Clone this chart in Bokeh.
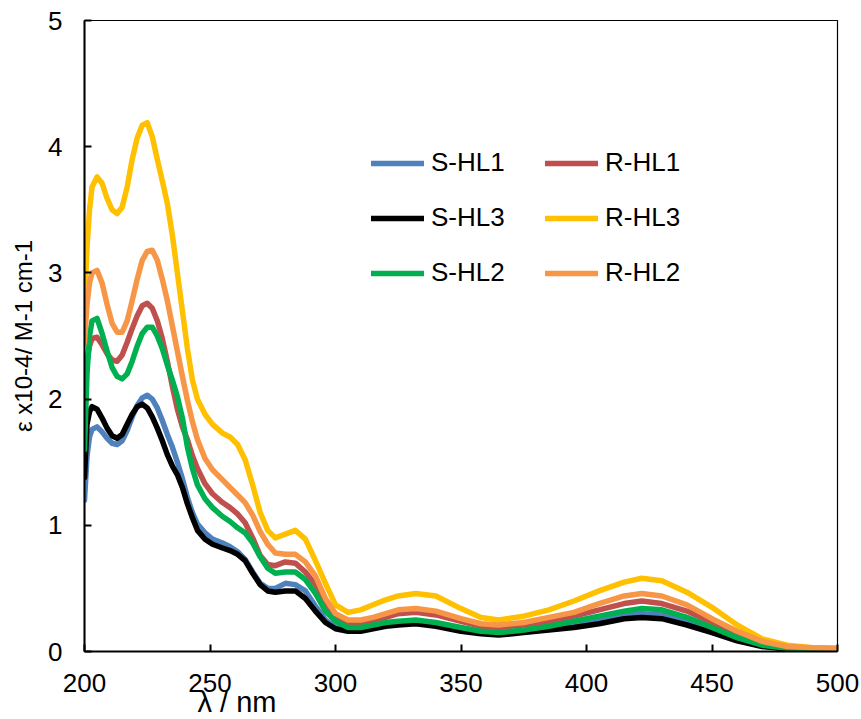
from bokeh.plotting import figure
from bokeh.models import Legend, LegendItem, FixedTicker, Range1d, Title
from bokeh.embed import file_html
from bokeh.resources import INLINE

# Wavelength grid (nm)
wavelength = [200, 201, 202, 203, 205, 207, 209, 211, 213, 215, 217, 219, 221, 223, 225,
              227, 229, 231, 233, 235, 237, 239, 241, 243, 245, 248, 251, 255, 258, 261,
              264, 267, 270, 273, 276, 280, 284, 288, 292, 296, 300, 305, 310, 315, 320,
              325, 332, 340, 350, 358, 365, 375, 385, 395, 405, 415, 422, 430, 440, 450,
              460, 470, 480, 490, 500]

# Molar absorptivity (x10^-4 M-1 cm-1)
s_hl1 = [1.20, 1.55, 1.70, 1.76, 1.78, 1.74, 1.69, 1.65, 1.64, 1.67, 1.75, 1.86, 1.95, 2.01, 2.03,
         2.00, 1.93, 1.83, 1.72, 1.62, 1.50, 1.37, 1.22, 1.10, 1.01, 0.94, 0.89, 0.86, 0.83, 0.79,
         0.73, 0.63, 0.54, 0.50, 0.50, 0.54, 0.53, 0.48, 0.36, 0.25, 0.19, 0.17, 0.17, 0.19, 0.21,
         0.22, 0.23, 0.21, 0.17, 0.15, 0.14, 0.16, 0.18, 0.21, 0.25, 0.29, 0.30, 0.29, 0.23, 0.16,
         0.09, 0.045, 0.02, 0.012, 0.01]

r_hl1 = [1.95, 2.30, 2.42, 2.48, 2.49, 2.43, 2.36, 2.31, 2.30, 2.35, 2.45, 2.56, 2.66, 2.74, 2.76,
         2.72, 2.62, 2.48, 2.30, 2.10, 1.92, 1.78, 1.68, 1.55, 1.45, 1.33, 1.25, 1.18, 1.14, 1.09,
         1.02, 0.90, 0.76, 0.69, 0.68, 0.71, 0.70, 0.63, 0.53, 0.38, 0.28, 0.23, 0.23, 0.25, 0.27,
         0.30, 0.31, 0.29, 0.24, 0.20, 0.19, 0.21, 0.24, 0.28, 0.33, 0.38, 0.40, 0.38, 0.32, 0.23,
         0.14, 0.07, 0.035, 0.025, 0.02]

s_hl3 = [1.38, 1.80, 1.90, 1.94, 1.92, 1.85, 1.77, 1.71, 1.69, 1.72, 1.80, 1.88, 1.94, 1.96, 1.93,
         1.86, 1.77, 1.67, 1.56, 1.47, 1.40, 1.30, 1.17, 1.06, 0.96, 0.89, 0.85, 0.82, 0.80, 0.77,
         0.72, 0.62, 0.53, 0.48, 0.47, 0.48, 0.48, 0.42, 0.32, 0.23, 0.18, 0.16, 0.16, 0.18, 0.20,
         0.21, 0.22, 0.20, 0.16, 0.14, 0.13, 0.15, 0.17, 0.19, 0.22, 0.26, 0.27, 0.26, 0.21, 0.15,
         0.085, 0.04, 0.02, 0.01, 0.01]

r_hl3 = [2.75, 3.20, 3.50, 3.68, 3.76, 3.71, 3.59, 3.50, 3.47, 3.52, 3.68, 3.90, 4.07, 4.17, 4.19,
         4.08, 3.90, 3.73, 3.55, 3.30, 3.00, 2.70, 2.40, 2.15, 2.00, 1.88, 1.80, 1.73, 1.70, 1.64,
         1.52, 1.32, 1.10, 0.96, 0.90, 0.93, 0.96, 0.89, 0.72, 0.54, 0.37, 0.31, 0.33, 0.37, 0.41,
         0.44, 0.46, 0.44, 0.34, 0.27, 0.25, 0.28, 0.33, 0.40, 0.48, 0.55, 0.58, 0.56, 0.47, 0.35,
         0.21, 0.10, 0.05, 0.03, 0.025]

s_hl2 = [1.60, 2.20, 2.50, 2.62, 2.64, 2.52, 2.38, 2.25, 2.18, 2.16, 2.20, 2.30, 2.42, 2.52, 2.57,
         2.57, 2.50, 2.40, 2.27, 2.15, 2.02, 1.85, 1.62, 1.45, 1.32, 1.21, 1.14, 1.07, 1.03, 0.98,
         0.94, 0.86, 0.75, 0.66, 0.62, 0.63, 0.63, 0.57, 0.46, 0.32, 0.24, 0.19, 0.19, 0.21, 0.23,
         0.24, 0.25, 0.23, 0.19, 0.16, 0.15, 0.17, 0.20, 0.24, 0.28, 0.32, 0.34, 0.33, 0.27, 0.19,
         0.11, 0.05, 0.025, 0.015, 0.01]

r_hl2 = [2.45, 2.75, 2.92, 3.00, 3.02, 2.92, 2.75, 2.60, 2.53, 2.53, 2.62, 2.78, 2.95, 3.10, 3.17,
         3.18, 3.10, 2.95, 2.78, 2.58, 2.38, 2.18, 1.99, 1.82, 1.68, 1.53, 1.44, 1.36, 1.30, 1.24,
         1.18, 1.08, 0.95, 0.85, 0.78, 0.77, 0.77, 0.71, 0.60, 0.42, 0.30, 0.25, 0.25, 0.27, 0.30,
         0.33, 0.34, 0.32, 0.26, 0.22, 0.21, 0.23, 0.27, 0.31, 0.38, 0.44, 0.46, 0.44, 0.37, 0.26,
         0.16, 0.08, 0.04, 0.03, 0.025]

x_ticks = [200, 250, 300, 350, 400, 450, 500]
y_ticks = [0, 1, 2, 3, 4, 5]

series = [
    ("S-HL1", s_hl1, "#4F81BD"),
    ("R-HL1", r_hl1, "#C0504D"),
    ("S-HL3", s_hl3, "#000000"),
    ("R-HL3", r_hl3, "#FFC000"),
    ("S-HL2", s_hl2, "#00B050"),
    ("R-HL2", r_hl2, "#F79646"),
]

FONT = "Liberation Sans"

p = figure(width=861, height=719, output_backend="svg", toolbar_location=None,
           x_range=Range1d(200, 500), y_range=Range1d(0, 5),
           min_border_left=84, min_border_right=24, min_border_top=20, min_border_bottom=68)
p.grid.visible = False
p.outline_line_color = "black"
p.outline_line_width = 1.2
p.background_fill_color = "white"
p.border_fill_color = "white"

renderers = {}
for name, vals, color in series:
    r = p.line(wavelength, vals, line_color=color, line_width=5.5,
               line_join="round", line_cap="round")
    renderers[name] = r

for ax in (p.xaxis[0], p.yaxis[0]):
    ax.axis_line_color = "black"
    ax.axis_line_width = 2
    ax.major_tick_line_color = "black"
    ax.major_tick_line_width = 2
    ax.major_tick_in = 7
    ax.major_tick_out = 0
    ax.minor_tick_line_color = None
    ax.major_label_text_font = FONT
    ax.major_label_text_font_size = "26px"
    ax.major_label_text_color = "black"

p.xaxis[0].ticker = FixedTicker(ticks=x_ticks)
p.yaxis[0].ticker = FixedTicker(ticks=y_ticks)
p.xaxis[0].major_label_standoff = 22
p.yaxis[0].major_label_standoff = 22

p.yaxis[0].axis_label = "ε x10-4/ M-1 cm-1"
p.yaxis[0].axis_label_text_font = FONT
p.yaxis[0].axis_label_text_font_size = "24px"
p.yaxis[0].axis_label_text_font_style = "normal"
p.yaxis[0].axis_label_text_color = "black"
p.yaxis[0].axis_label_standoff = 8

# x-axis title, set off to the left under the axis
xtitle = Title(text="λ / nm", align="left", offset=113, standoff=-21,
               text_font=FONT, text_font_size="29px", text_font_style="normal",
               text_color="black")
p.add_layout(xtitle, "below")

def make_legend(names, x, y):
    leg = Legend(items=[LegendItem(label=n, renderers=[renderers[n]]) for n in names],
                 location=(x, y), orientation="vertical")
    leg.glyph_width = 53
    leg.glyph_height = 24
    leg.label_height = 24
    leg.label_standoff = 7
    leg.spacing = 24
    leg.padding = 0
    leg.margin = 0
    leg.border_line_color = None
    leg.background_fill_alpha = 0
    leg.label_text_font = FONT
    leg.label_text_font_size = "26px"
    leg.label_text_color = "black"
    return leg

p.add_layout(make_legend(["S-HL1", "S-HL3", "S-HL2"], 287, 363))
p.add_layout(make_legend(["R-HL1", "R-HL3", "R-HL2"], 461, 363))

open("out.html", "w").write(file_html(p, INLINE))
